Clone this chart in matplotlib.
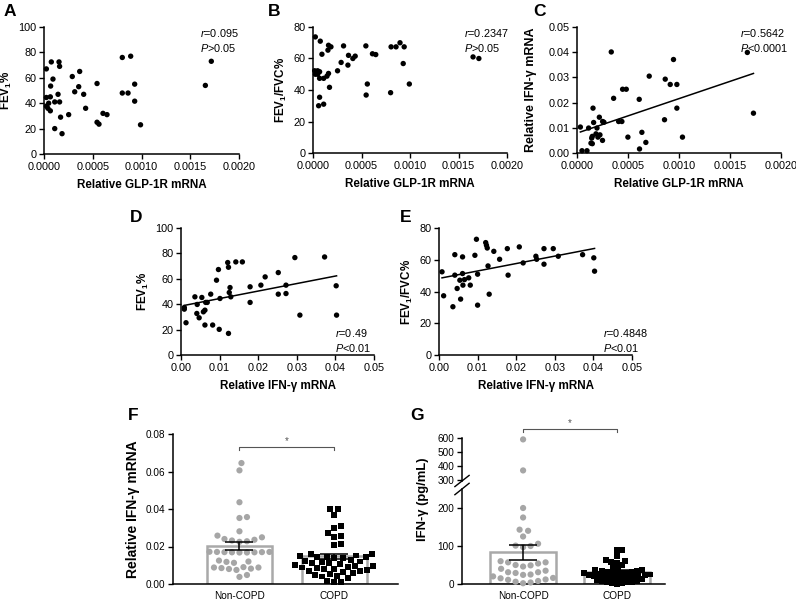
import numpy as np
import matplotlib
matplotlib.use("Agg")
import matplotlib.pyplot as plt
from matplotlib.ticker import FormatStrFormatter

plt.rcParams["font.family"] = ["Liberation Sans", "DejaVu Sans"]
plt.rcParams["mathtext.fontset"] = "custom"
plt.rcParams["mathtext.rm"] = "Liberation Sans"
plt.rcParams["mathtext.it"] = "Liberation Sans:italic"
plt.rcParams["mathtext.bf"] = "Liberation Sans:bold"

# ---- data ----
# A: GLP-1R mRNA vs FEV1%
glp_a = [0.000024, 0.000075, 0.000154, 0.00016, 0.000092, 0.000068, 0.000024, 0.000065,
         0.000024, 0.000048, 0.00004, 0.000065, 0.00011, 0.000144, 0.00016, 0.00017,
         0.00011, 0.000185, 0.00029, 0.000366, 0.000356, 0.000315, 0.000407, 0.000427,
         0.000253, 0.000544, 0.000544, 0.000564, 0.000605, 0.000646, 0.000803, 0.000889,
         0.000803, 0.000862, 0.00093, 0.00093, 0.00099, 0.001655, 0.001716]
fev1_a = [67, 72.5, 72.5, 69, 59, 53.5, 44.5, 45, 37.7, 40, 36, 34, 41, 47, 41, 29,
          20, 16, 61, 65, 53, 49, 47, 36, 31, 55.5, 25, 23.5, 32, 31, 76, 77, 48, 48,
          55, 41.6, 23, 54, 73]

# B: GLP-1R mRNA vs FEV1/FVC%
glp_b = [0.000024, 0.000075, 0.000092, 0.000017, 0.000048, 0.000068, 0.000048, 0.000024,
         0.000068, 0.00011, 0.000144, 0.00016, 0.00017, 0.000068, 0.000058, 0.00011,
         0.00016, 0.000154, 0.000185, 0.000315, 0.00029, 0.000253, 0.000366, 0.00036,
         0.000411, 0.000435, 0.000545, 0.00056, 0.000613, 0.000647, 0.000548, 0.000805,
         0.000856, 0.000897, 0.00094, 0.00093, 0.0008, 0.000993, 0.00165, 0.00171]
fvc_b = [73.7, 71, 62.7, 52.2, 52.2, 51.6, 50, 50, 47.4, 47.4, 48.8, 50.5, 41.7, 35.4,
         30, 31, 68.4, 65.3, 67.4, 68, 57.5, 52.2, 62, 55.8, 60, 61.5, 68, 43.8, 63,
         62.5, 36.8, 67.4, 67.4, 70, 67.4, 56.8, 38.3, 43.8, 61, 60]

# C: GLP-1R mRNA vs IFN-gamma mRNA
glp_c = [0.000336, 0.000033, 0.000157, 0.000163, 0.000114, 0.000196, 0.000219, 0.000251,
         0.000264, 0.00015, 0.000186, 0.000205, 0.000225, 0.00025, 0.00015, 0.000144,
         0.000049, 0.000098, 0.000137, 0.000359, 0.000408, 0.00044, 0.000447, 0.000483,
         0.000499, 0.00061, 0.000708, 0.000636, 0.000675, 0.000613, 0.000865, 0.000914,
         0.000946, 0.000979, 0.000979, 0.000858, 0.001034, 0.00167, 0.00173]
ifn_c = [0.0401, 0.0103, 0.0178, 0.0121, 0.0099, 0.0099, 0.0142, 0.0125, 0.0122, 0.0066,
         0.0076, 0.0063, 0.0072, 0.005, 0.0037, 0.0059, 0.0009, 0.0009, 0.0039, 0.0217,
         0.0125, 0.0125, 0.0253, 0.0253, 0.0063, 0.0213, 0.0305, 0.0082, 0.0042, 0.0016,
         0.0293, 0.0272, 0.0371, 0.0272, 0.0178, 0.0132, 0.0063, 0.0399, 0.0158]

# D: IFN-gamma mRNA vs FEV1%
ifn_d = [0.00086, 0.00086, 0.0013, 0.0036, 0.0042, 0.0041, 0.0047, 0.0054, 0.0058, 0.0062,
         0.0064, 0.0068, 0.0062, 0.0077, 0.0082, 0.0092, 0.0097, 0.0101, 0.0099, 0.0123,
         0.0121, 0.0123, 0.0125, 0.0129, 0.0127, 0.0142, 0.0159, 0.0179, 0.0179, 0.0207,
         0.0218, 0.0252, 0.0252, 0.0272, 0.0272, 0.0308, 0.0295, 0.0372, 0.0402, 0.0403]
fev1_d = [36.1, 37.4, 25.4, 45.8, 39.8, 32.7, 29.3, 45.3, 34, 35.3, 41.4, 41.4, 23.6, 47.9,
          23.6, 58.9, 67.3, 44.5, 20.2, 17, 72.8, 69.1, 49.2, 45.8, 53.1, 73.3, 73.3, 53.7,
          41.4, 55, 61.5, 64.9, 47.9, 55, 48.4, 31.4, 76.7, 77.2, 54.5, 31.4]

# E: IFN-gamma mRNA vs FEV1/FVC%
ifn_e = [0.00078, 0.0012, 0.0036, 0.0041, 0.0041, 0.0047, 0.0054, 0.0056, 0.0061, 0.0061,
         0.0062, 0.0066, 0.0077, 0.0081, 0.0093, 0.0097, 0.01, 0.01, 0.0121, 0.0123, 0.0125,
         0.0127, 0.013, 0.0142, 0.0157, 0.0177, 0.0179, 0.0208, 0.0218, 0.0251, 0.0253,
         0.0272, 0.0272, 0.0296, 0.0309, 0.0372, 0.0401, 0.0403]
fvc_e = [52.4, 37.3, 30.4, 63.2, 50.3, 41.9, 47.1, 35.2, 61.8, 51.3, 44, 47.5, 48.6, 44,
         62.8, 72.9, 50.9, 31.4, 70.8, 69.1, 67.4, 56.1, 38.3, 65.3, 60.3, 67, 50.3, 68.1,
         58, 62.2, 60.3, 67, 57.2, 67, 62.2, 63.2, 61.2, 52.8]

stats_text = [("0.095", ">0.05"), ("0.2347", ">0.05"), ("0.5642", "<0.0001"),
              ("0.49", "<0.01"), ("0.4848", "<0.01")]

# F/G groups
groups = ["Non-COPD", "COPD"]
f_non = [0.0645, 0.0606, 0.0436, 0.0357, 0.0352, 0.0281, 0.0258, 0.0249, 0.0240, 0.0236,
         0.0232, 0.0228, 0.0225, 0.0172, 0.0171, 0.0170, 0.0170, 0.0169, 0.0169, 0.0168,
         0.0168, 0.0171, 0.0125, 0.0120, 0.0118, 0.0113, 0.0090, 0.0088, 0.0088, 0.0085,
         0.0082, 0.0080, 0.0075, 0.0048, 0.0038]
f_copd = [0.0402, 0.0402, 0.0370, 0.0308, 0.0299, 0.0272, 0.0254, 0.0252, 0.0215, 0.0209,
          0.0160, 0.0158, 0.0152, 0.0148, 0.0146, 0.0144, 0.0142, 0.0140, 0.0138, 0.0126,
          0.0124, 0.0120, 0.0115, 0.0112, 0.0110, 0.0105, 0.0100, 0.0098, 0.0095, 0.0092,
          0.0088, 0.0085, 0.0082, 0.0078, 0.0075, 0.0070, 0.0068, 0.0065, 0.0058, 0.0052,
          0.0048, 0.0045, 0.0040, 0.0030, 0.0015, 0.0012, 0.0010]
f_mean = [0.0204, 0.0148]
f_sem = [0.0020, 0.0013]

g_non = [590, 370, 200, 175, 143, 140, 125, 106, 101, 100, 97, 60, 57, 57, 54, 50, 49,
         46, 40, 35, 31, 31, 29, 25, 24, 20, 16, 15, 12, 11, 8, 6, 4, 2]
g_copd = [89, 89, 73, 62, 60, 57, 55, 50, 45, 40, 38, 36, 35, 34, 33, 32, 30, 30, 29, 28,
          27, 26, 25, 24, 23, 22, 21, 20, 19, 18, 17, 16, 15, 14, 12, 10, 9, 8, 6, 5, 4,
          3, 2, 1]
g_mean = [83, 31]
g_sem = [19, 5]

W, H = 796, 600
fig = plt.figure(figsize=(W / 100, H / 100), dpi=100, facecolor="white")


def add_ax(left, right, top, bottom):
    return fig.add_axes([left / W, 1 - bottom / H, (right - left) / W, (bottom - top) / H])


def style(ax, fs=7.8):
    for s in ["top", "right"]:
        ax.spines[s].set_visible(False)
    for s in ["left", "bottom"]:
        ax.spines[s].set_linewidth(1.1)
    ax.tick_params(direction="out", length=3.5, width=1.0, labelsize=fs, pad=2)


def scatter_panel(ax, x, y, xmax, xticks, xfmt, ymax, ystep, yfmt, stat, stat_pos, fit):
    style(ax)
    ax.scatter(x, y, s=15, c="black", edgecolors="none", zorder=3, clip_on=False)
    if fit:
        k, b = np.polyfit(x, y, 1)
        xx = np.array([min(x), max(x)])
        ax.plot(xx, k * xx + b, color="black", lw=1.1, zorder=2)
    ax.set_xlim(0, xmax)
    ax.set_ylim(0, ymax)
    ax.set_xticks(xticks)
    ax.set_yticks(np.arange(0, ymax + ystep / 2, ystep))
    ax.xaxis.set_major_formatter(FormatStrFormatter(xfmt))
    ax.yaxis.set_major_formatter(FormatStrFormatter(yfmt))
    r, p = stat
    ax.text(stat_pos[0], stat_pos[1], r"$\mathit{r}$=" + r + "\n" + r"$\mathit{P}$" + p,
            transform=ax.transAxes, fontsize=7.8, va="top", ha="left", linespacing=1.25)


lab_kw = dict(fontsize=8.4, fontweight="bold")
glp_ticks = np.arange(0, 0.00201, 0.0005)
ifn_ticks = np.arange(0, 0.0501, 0.01)

axA = add_ax(44, 239, 27, 154)
scatter_panel(axA, glp_a, fev1_a, 0.002, glp_ticks, "%.4f", 100, 20, "%d",
              stats_text[0], (0.80, 1.0), False)
axA.set_ylabel(r"FEV$_\mathbf{1}$%", labelpad=3, **lab_kw)
axA.set_xlabel("Relative GLP-1R mRNA", labelpad=5, **lab_kw)

axB = add_ax(313, 507, 27, 153)
scatter_panel(axB, glp_b, fvc_b, 0.002, glp_ticks, "%.4f", 80, 20, "%d",
              stats_text[1], (0.78, 1.0), False)
axB.set_ylabel(r"FEV$_\mathbf{1}$/FVC%", labelpad=3, **lab_kw)
axB.set_xlabel("Relative GLP-1R mRNA", labelpad=5, **lab_kw)

axC = add_ax(577, 781, 27, 153)
scatter_panel(axC, glp_c, ifn_c, 0.002, glp_ticks, "%.4f", 0.05, 0.01, "%.2f",
              stats_text[2], (0.80, 1.0), True)
axC.set_ylabel("Relative IFN-γ mRNA", fontsize=9.0, fontweight="bold")
axC.yaxis.set_label_coords(-0.195, 0.5)
axC.set_xlabel("Relative GLP-1R mRNA", labelpad=5, **lab_kw)

axD = add_ax(181, 374, 228, 355)
scatter_panel(axD, ifn_d, fev1_d, 0.05, ifn_ticks, "%.2f", 100, 20, "%d",
              stats_text[3], (0.80, 0.22), True)
axD.set_ylabel(r"FEV$_\mathbf{1}$%", labelpad=3, **lab_kw)
axD.set_xlabel("Relative IFN-γ mRNA", labelpad=5, **lab_kw)

axE = add_ax(439, 632, 228, 355)
scatter_panel(axE, ifn_e, fvc_e, 0.05, ifn_ticks, "%.2f", 80, 20, "%d",
              stats_text[4], (0.85, 0.22), True)
axE.set_ylabel(r"FEV$_\mathbf{1}$/FVC%", labelpad=3, **lab_kw)
axE.set_xlabel("Relative IFN-γ mRNA", labelpad=5, **lab_kw)


def swarm(values, y_px, x_px, dist):
    """Simple beeswarm: x offsets (data units) so that markers do not overlap."""
    vals = np.asarray(values, float)
    order = np.argsort(vals)
    placed = []
    offs = np.zeros(len(vals))
    cands = [0.0]
    for k in range(1, 400):
        cands += [k * 0.5, -k * 0.5]
    for i in order:
        y = vals[i] * y_px
        for c in cands:
            if all((c - px) ** 2 + (y - py) ** 2 >= dist ** 2 for px, py in placed):
                break
        placed.append((c, y))
        offs[i] = c / x_px
    return offs


bar_kw = dict(color="white", edgecolor="#a9a9a9", linewidth=1.8, zorder=1)
err_kw = dict(fmt="none", ecolor="black", elinewidth=1.1, capsize=10, capthick=1.1, zorder=5)

# ---- F ----
axF = add_ax(173, 398, 434, 584)
style(axF, 7.2)
axF.set_xlim(-0.70, 1.67)
axF.set_ylim(0, 0.08)
axF.bar([0, 1], f_mean, width=0.68, **bar_kw)
fy = 150 / 0.08
ox = swarm(f_non, fy, 95, 7.5)
axF.scatter(0 + ox, f_non, s=20, c="#a6a6a6", edgecolors="none", zorder=3, clip_on=False)
ox = swarm(f_copd, fy, 95, 7.0)
axF.scatter(1 + ox, f_copd, s=18, c="black", marker="s", edgecolors="none", zorder=3,
            clip_on=False)
axF.errorbar([0, 1], f_mean, yerr=f_sem, **err_kw)
axF.set_yticks(np.arange(0, 0.081, 0.02))
axF.yaxis.set_major_formatter(FormatStrFormatter("%.2f"))
axF.set_xticks([0, 1])
axF.set_xticklabels(groups)
axF.tick_params(axis="x", length=0, pad=5)
axF.set_ylabel("Relative IFN-γ mRNA", labelpad=4, fontsize=10, fontweight="bold")
axF.plot([0, 0, 1, 1], [0.0715, 0.0731, 0.0731, 0.0715], color="#555555", lw=0.8)
axF.text(0.5, 0.0738, "*", ha="center", va="bottom", fontsize=7, color="#555555")

# ---- G (broken y axis) ----
gx0, gx1 = -0.65, 1.51
axGl = add_ax(462, 665, 489, 584)
axGu = add_ax(462, 665, 438, 481)
style(axGl, 7.2)
style(axGu, 7.2)
axGu.spines["bottom"].set_visible(False)
axGu.tick_params(axis="x", bottom=False, labelbottom=False)
axGl.set_xlim(gx0, gx1)
axGu.set_xlim(gx0, gx1)
axGl.set_ylim(0, 250)
axGu.set_ylim(295, 600)
axGl.set_yticks([0, 100, 200])
axGu.set_yticks([300, 400, 500, 600])
axGl.bar([0, 1], g_mean, width=0.70, **bar_kw)
g_non_arr = np.array(g_non)
low = g_non_arr < 250
gy = 95 / 250
ox = swarm(g_non_arr[low], gy, 94, 7.5)
axGl.scatter(ox, g_non_arr[low], s=20, c="#a6a6a6", edgecolors="none", zorder=3,
             clip_on=False)
axGu.scatter(np.zeros((~low).sum()), g_non_arr[~low], s=20, c="#a6a6a6",
             edgecolors="none", zorder=3, clip_on=False)
ox = swarm(g_copd, gy, 94, 5.0)
axGl.scatter(1 + ox, g_copd, s=18, c="black", marker="s", edgecolors="none", zorder=3,
             clip_on=False)
axGl.errorbar([0, 1], g_mean, yerr=g_sem, **err_kw)
axGl.set_xticks([0, 1])
axGl.set_xticklabels(groups)
axGl.tick_params(axis="x", length=0, pad=5)
# break marks on the y axis
for ax_, yb, dy in [(axGl, 1.0, 0.06), (axGu, 0.0, 0.13)]:
    ax_.plot([-0.035, 0.035], [yb - dy, yb + dy], transform=ax_.transAxes, color="black",
             lw=1.0, clip_on=False)
axGu.plot([0, 0, 1, 1], [643, 664, 664, 643], color="#555555", lw=0.8, clip_on=False)
axGu.text(0.5, 672, "*", ha="center", va="bottom", fontsize=7, color="#555555")
fig.text(423 / W, 1 - 499 / H, "IFN-γ (pg/mL)", rotation=90, ha="center", va="center",
         fontsize=9.4, fontweight="bold")

# panel letters
for letter, (px, py) in zip("ABCDEFG", [(4, 12), (268, 12), (533, 12), (130, 217),
                                         (400, 217), (128, 415), (410, 415)]):
    fig.text(px / W, 1 - py / H, letter, fontsize=12.5, fontweight="bold",
             ha="left", va="center")

fig.savefig("out.png", dpi=100, facecolor="white")
